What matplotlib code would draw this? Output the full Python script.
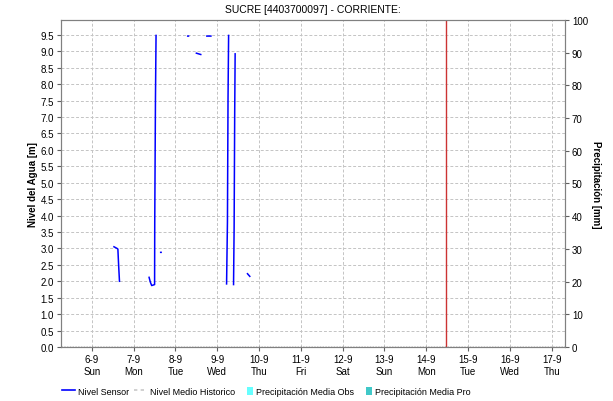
import matplotlib
matplotlib.use('Agg')
import matplotlib.pyplot as plt
from matplotlib.lines import Line2D
from matplotlib.patches import Patch
import numpy as np
import pandas as pd

plt.rcParams['font.family'] = ['Liberation Sans', 'DejaVu Sans']

# Nivel Sensor (m); None = hueco en la serie
sensor_time = [
    "2015-09-06 12:40", "2015-09-06 14:25", "2015-09-06 14:55", "2015-09-06 15:20", "2015-09-06 15:50", None,
    "2015-09-07 08:50", "2015-09-07 09:35", "2015-09-07 10:20", "2015-09-07 12:00", "2015-09-07 12:05",
    "2015-09-07 12:30", "2015-09-07 12:50", None,
    "2015-09-07 15:30", "2015-09-07 15:45", None,
    "2015-09-08 07:00", "2015-09-08 07:30", None,
    "2015-09-08 12:00", "2015-09-08 14:30", None,
    "2015-09-08 18:00", "2015-09-08 20:20", None,
    "2015-09-09 05:20", "2015-09-09 05:50", "2015-09-09 06:10", "2015-09-09 06:30", None,
    "2015-09-09 09:20", "2015-09-09 09:40", "2015-09-09 10:00", "2015-09-09 10:15", None,
    "2015-09-09 17:20", "2015-09-09 18:40",
]
sensor_level = [
    3.05, 3.00, 2.98, 2.50, 2.00, None,
    2.12, 1.97, 1.87, 1.90, 3.78, 7.57, 9.48, None,
    2.88, 2.88, None,
    9.46, 9.46, None,
    8.94, 8.90, None,
    9.46, 9.46, None,
    1.92, 3.81, 7.57, 9.48, None,
    1.90, 3.64, 7.15, 8.92, None,
    2.23, 2.15,
]

day_ticks = pd.date_range("2015-09-06", "2015-09-17", freq="D")
day_names = ["Sun", "Mon", "Tue", "Wed", "Thu", "Fri", "Sat", "Sun", "Mon", "Tue", "Wed", "Thu"]
now_time = pd.Timestamp("2015-09-14 11:30")

# los huecos reutilizan la hora anterior con valor NaN
t, v = [], []
for s, x in zip(sensor_time, sensor_level):
    t.append(pd.Timestamp(s).to_pydatetime() if s else t[-1])
    v.append(np.nan if x is None else x)

fig = plt.figure(figsize=(6.13, 4.02), dpi=100)
ax = fig.add_axes([0.0995, 0.1343, 0.8222, 0.8135])
ax2 = ax.twinx()

ax.plot(t, v, color='#0000ff', lw=1.1)
ax.axvline(now_time.to_pydatetime(), color='#cc3333', lw=1)
ax.axhline(0, color='#333333', lw=1, ls=(0, (1, 1)))

ax.set_xlim(pd.Timestamp("2015-09-05 06:15").to_pydatetime(), pd.Timestamp("2015-09-17 07:40").to_pydatetime())
ax.set_ylim(0, 9.95)
ax.set_yticks(np.arange(0, 9.51, 0.5))
ax.set_yticklabels([f"{y:.1f}" for y in np.arange(0, 9.51, 0.5)])
ax.set_xticks(day_ticks.to_pydatetime())
ax.set_xticklabels([f"{d.day}-{d.month}\n{n}" for d, n in zip(day_ticks, day_names)])
ax.grid(True, color='#c4c4c4', ls=(0, (3, 2)), lw=0.7)

ax2.set_ylim(0, 100)
ax2.set_yticks(range(0, 101, 10))

for a in (ax, ax2):
    a.tick_params(labelsize=7, length=3, width=0.8, color='#606060', pad=2)
    for s in a.spines.values():
        s.set_color('#808080')

ax.set_ylabel("Nivel del Agua [m]", fontsize=7, fontweight='bold', labelpad=2)
ax2.set_ylabel("Precipitación [mm]", fontsize=7, fontweight='bold', rotation=270, labelpad=9)
ax.set_title("SUCRE [4403700097] - CORRIENTE:", fontsize=7.5, pad=6)

handles = [
    Line2D([0], [0], color='#0000ff', lw=1.2),
    Line2D([0], [0], color='#c8c8c8', lw=1.2, ls=(0, (2, 2))),
    Patch(facecolor='#66ffff', edgecolor='none'),
    Patch(facecolor='#40c8c8', edgecolor='none'),
]
labels = ["Nivel Sensor", "Nivel Medio Historico", "Precipitación Media Obs", "Precipitación Media Pro"]
leg = fig.legend(handles, labels, loc='center', bbox_to_anchor=(0.434, 0.024), ncol=4, frameon=False,
                 fontsize=6.5, handlelength=1.5, handleheight=1.1, handletextpad=0.3, columnspacing=0.5)
# parches estrechos pegados al texto
for p in leg.get_patches():
    w = p.get_width()
    p.set_x(p.get_x() + w - 4.5)
    p.set_width(4.5)

fig.savefig("out.png", dpi=100)
